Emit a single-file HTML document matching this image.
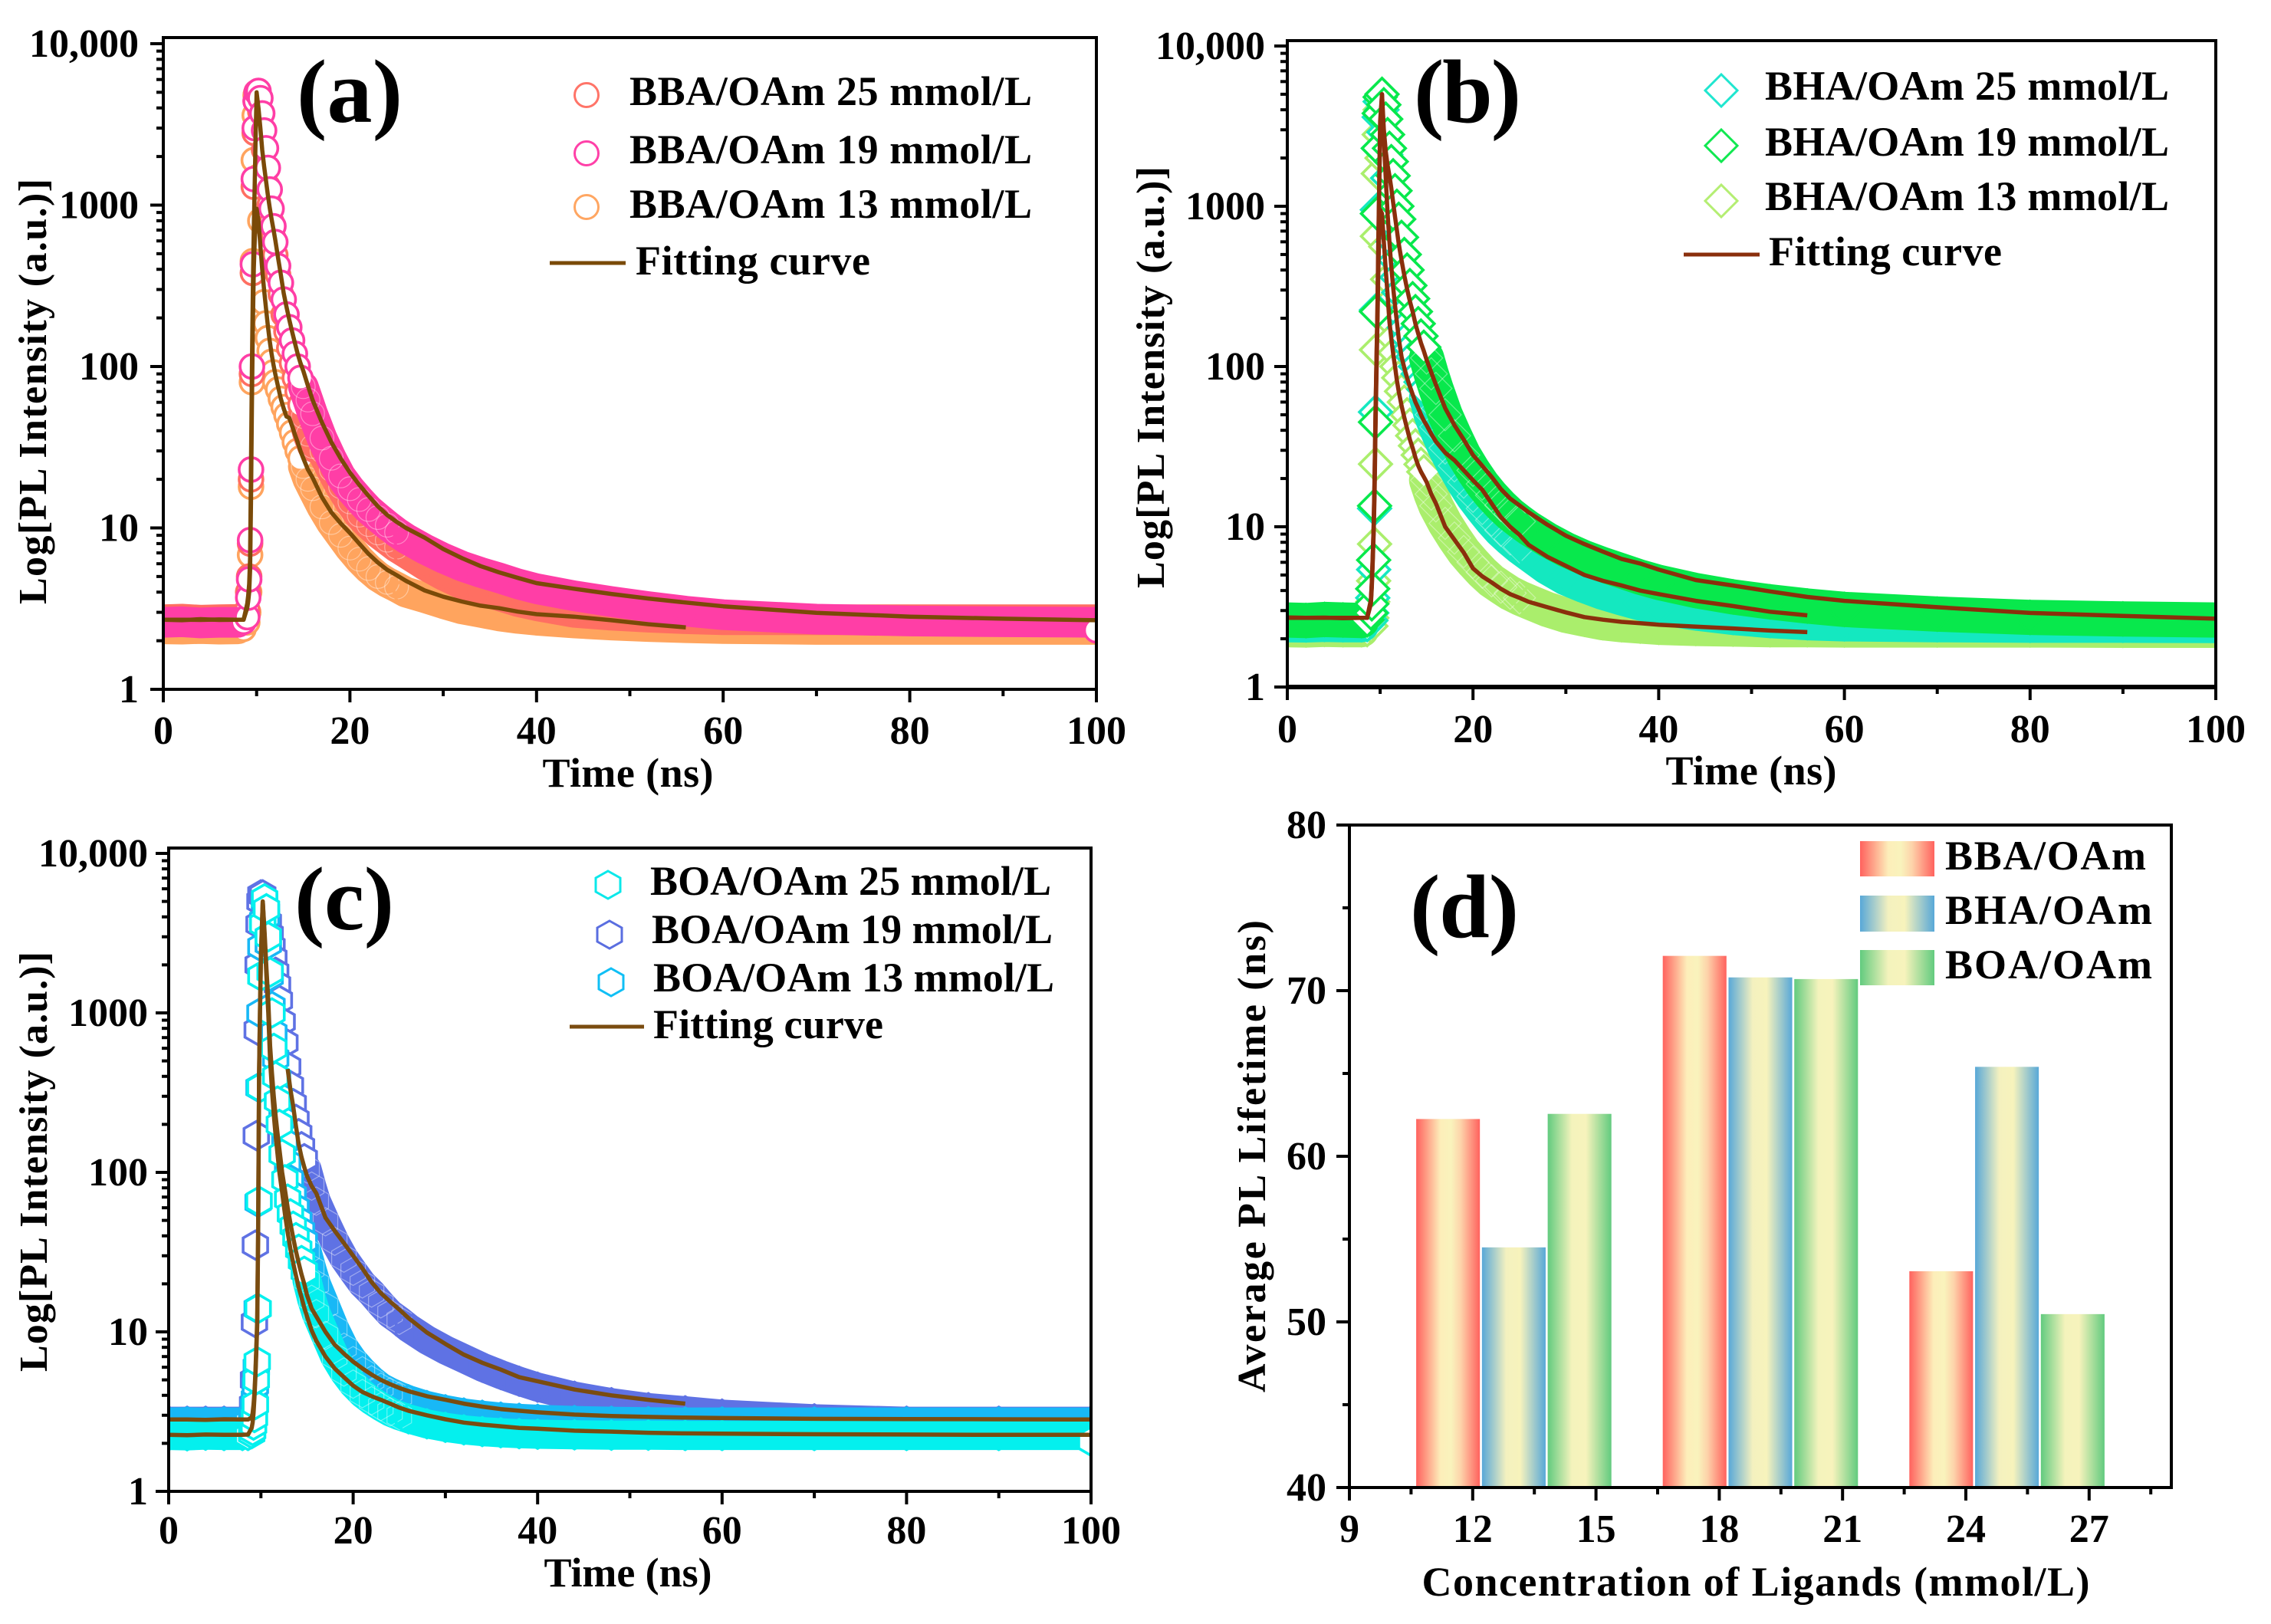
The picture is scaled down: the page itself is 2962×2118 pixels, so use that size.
<!DOCTYPE html>
<html lang="en">
<head>
<meta charset="utf-8">
<title>PL decay curves and average lifetimes</title>
<style>
html,body{margin:0;padding:0;background:#fff;}
svg{display:block;}
text{font-family:"Liberation Serif",serif;font-weight:bold;fill:#000;}
.t52{font-size:52px;}
.t54{font-size:54px;}
.big{font-size:118px;}
</style>
</head>
<body>
<svg id="figure" xmlns="http://www.w3.org/2000/svg" width="2962" height="2118" viewBox="0 0 2962 2118">
<defs>
<linearGradient id="grad-bba" x1="0" x2="1" y1="0" y2="0"><stop offset="0" stop-color="#ff625e"/><stop offset=".38" stop-color="#fdeeba"/><stop offset=".55" stop-color="#f9f3bc"/><stop offset=".7" stop-color="#fdd3aa"/><stop offset="1" stop-color="#ff625e"/></linearGradient>
<linearGradient id="grad-bha" x1="0" x2="1" y1="0" y2="0"><stop offset="0" stop-color="#58a8d8"/><stop offset=".38" stop-color="#f4f1bf"/><stop offset=".6" stop-color="#f7f3bc"/><stop offset="1" stop-color="#58a8d8"/></linearGradient>
<linearGradient id="grad-boa" x1="0" x2="1" y1="0" y2="0"><stop offset="0" stop-color="#62cb7f"/><stop offset=".38" stop-color="#f4f3bc"/><stop offset=".6" stop-color="#f7f3bc"/><stop offset="1" stop-color="#62cb7f"/></linearGradient>
<clipPath id="clip-a"><rect x="213" y="49" width="1217" height="851"/></clipPath>
<clipPath id="clip-b"><rect x="1679" y="53" width="1211" height="844"/></clipPath>
<clipPath id="clip-c"><rect x="220" y="1106" width="1203" height="840"/></clipPath>
</defs>
<rect width="2962" height="2118" fill="#fff"/>

<g id="panel-a"></g>
<g id="panel-b"></g>
<g id="panel-c"></g>
<g id="panel-d"></g>

<!-- Panel a text -->
<text class="big" x="387" y="159" textLength="138">(a)</text>
<text class="t52" transform="translate(60,788) rotate(-90)" x="0" y="0" textLength="555">Log[PL Intensity (a.u.)]</text>
<text class="t54" x="819" y="1026" text-anchor="middle" textLength="223">Time (ns)</text>
<circle cx="765" cy="124" r="15.5" fill="#fff" stroke="#ff7468" stroke-width="3"/>
<circle cx="765" cy="200" r="15.5" fill="#fff" stroke="#ff40a8" stroke-width="3"/>
<circle cx="765" cy="270" r="15.5" fill="#fff" stroke="#ffa662" stroke-width="3"/>
<text class="t54" x="821" y="137" textLength="525">BBA/OAm 25 mmol/L</text>
<text class="t54" x="821" y="213" textLength="525">BBA/OAm 19 mmol/L</text>
<text class="t54" x="821" y="284" textLength="525">BBA/OAm 13 mmol/L</text>
<line x1="717" x2="816" y1="343" y2="343" stroke="#7a4a08" stroke-width="5"/>
<text class="t54" x="829" y="358" textLength="306">Fitting curve</text>

<!-- Panel b text -->
<text class="big" x="1844" y="159" textLength="140">(b)</text>
<text class="t52" transform="translate(1518,767) rotate(-90)" x="0" y="0" textLength="550">Log[PL Intensity (a.u.)]</text>
<text class="t54" x="2284" y="1023" text-anchor="middle" textLength="223">Time (ns)</text>
<polygon points="2245,97 2266,118 2245,139 2224,118" fill="#fff" stroke="#1fe6cf" stroke-width="3"/>
<polygon points="2245,169 2266,190 2245,211 2224,190" fill="#fff" stroke="#10e850" stroke-width="3"/>
<polygon points="2245,241 2266,262 2245,283 2224,262" fill="#fff" stroke="#b4ee72" stroke-width="3"/>
<text class="t54" x="2302" y="130" textLength="527">BHA/OAm 25 mmol/L</text>
<text class="t54" x="2302" y="203" textLength="527">BHA/OAm 19 mmol/L</text>
<text class="t54" x="2302" y="274" textLength="527">BHA/OAm 13 mmol/L</text>
<line x1="2196" x2="2295" y1="332" y2="332" stroke="#8a2f0c" stroke-width="5"/>
<text class="t54" x="2307" y="346" textLength="304">Fitting curve</text>

<!-- Panel c text -->
<text class="big" x="384" y="1212" textLength="130">(c)</text>
<text class="t52" transform="translate(61,1789) rotate(-90)" x="0" y="0" textLength="548">Log[PL Intensity (a.u.)]</text>
<text class="t54" x="819" y="2069" text-anchor="middle" textLength="219">Time (ns)</text>
<polygon points="793,1136 809,1145 809,1163 793,1172 777,1163 777,1145" fill="#fff" stroke="#0ae8ea" stroke-width="3"/>
<polygon points="795,1201 811,1210 811,1228 795,1237 779,1228 779,1210" fill="#fff" stroke="#5a6ee0" stroke-width="3"/>
<polygon points="797,1263 813,1272 813,1290 797,1299 781,1290 781,1272" fill="#fff" stroke="#10bff5" stroke-width="3"/>
<text class="t54" x="848" y="1167" textLength="523">BOA/OAm 25 mmol/L</text>
<text class="t54" x="850" y="1230" textLength="523">BOA/OAm 19 mmol/L</text>
<text class="t54" x="852" y="1293" textLength="523">BOA/OAm 13 mmol/L</text>
<line x1="743" x2="840" y1="1339" y2="1339" stroke="#7a4c10" stroke-width="5"/>
<text class="t54" x="852" y="1354" textLength="300">Fitting curve</text>

<!-- Panel d text -->
<text class="big" x="1839" y="1222" textLength="142">(d)</text>
<text class="t52" transform="translate(1650,1816) rotate(-90)" x="0" y="0" textLength="616">Average PL Lifetime (ns)</text>
<text class="t54" x="2290" y="2081" text-anchor="middle" textLength="871">Concentration of Ligands (mmol/L)</text>
<rect x="2426" y="1097" width="97" height="46" fill="url(#grad-bba)"/>
<rect x="2426" y="1168" width="97" height="47" fill="url(#grad-bha)"/>
<rect x="2426" y="1239" width="97" height="46" fill="url(#grad-boa)"/>
<text class="t54" x="2537" y="1134" textLength="262">BBA/OAm</text>
<text class="t54" x="2537" y="1205" textLength="270">BHA/OAm</text>
<text class="t54" x="2537" y="1276" textLength="270">BOA/OAm</text>
</svg>

<script>
// ---- shared sampling times (ns) for panels a, b, c ----
const timeNs = [
  0,2,4,6,8,8.6,
  9,9.1,9.2,9.3,9.4,9.5,9.6,9.7,9.8,9.9,10,
  10.2,10.4,10.6,10.8,11,11.2,11.4,11.6,11.8,12,
  12.3,12.6,12.9,13.2,13.5,13.8,14.1,14.4,14.7,15,
  15.5,16,17,18,19,20,21,22,23,24,25,26,
  28,30,32,34,36,38,40,
  44,48,52,56,60,70,80,90,100];

// ---- axis ticks ----
const timeTicks = [0,20,40,60,80,100];
const timeMinorTicks = [10,30,50,70,90];
const logTicks = [1,10,100,1000,10000];
const logTickLabels = ['1','10','100','1000','10,000'];
const logMinorFactors = [2,3,4,5,6,7,8,9];

// ---- panel a: BBA/OAm ----
const bba13 = [
  2.37,2.36,2.38,2.36,2.37,2.37,
  2.6,3,4,6.8,18,80,450,1900,3600,4800,5000,
  1500,800,420,250,185,150,125,107,92,80,
  72,63,56,50,44,39,34,30,27,24,
  20,17.5,13.5,10.8,9,7.5,6.4,5.6,5,4.6,4.3,4,
  3.7,3.4,3.15,3,2.85,2.75,2.68,
  2.58,2.5,2.45,2.41,2.38,2.35,2.35,2.35,2.35];
const bba25 = [
  2.7,2.72,2.68,2.7,2.71,2.7,
  3.1,4,5,8,20,90,380,1300,2800,4400,5000,
  4800,3800,2900,2200,1700,1300,1000,780,620,490,
  370,280,210,165,130,105,85,70,58,49,
  38,32,30,23,18,14.5,12,10.5,9.3,8.4,7.6,7,
  5.9,5.1,4.5,4.1,3.8,3.5,3.3,
  3,2.88,2.8,2.74,2.7,2.7,2.7,2.7,2.7];
const bba19 = [
  2.6,2.62,2.58,2.6,2.6,2.62,
  2.8,3.7,4.8,8.4,23,100,430,1450,3000,4400,5000,
  5100,4600,3700,2900,2250,1700,1250,950,740,590,
  420,330,260,210,175,145,120,100,85,75,
  62,51,36,27,21,17.5,15,13,11.6,10.4,9.4,8.6,
  7.4,6.5,5.8,5.3,4.9,4.5,4.2,
  3.8,3.5,3.25,3.05,2.9,2.72,2.65,2.62,2.6];
const bba19EndReading = [2.32];
const bbaFitUpper = [
  2.7,2.68,2.72,2.69,2.7,2.7,
  3.4,3.8,4.5,6.5,25,100,300,700,1400,2800,5000,
  4000,3000,2200,1750,1420,1160,970,820,710,610,
  470,370,285,235,195,165,140,120,105,94,
  76,62,45,34,27,22,18.5,15.8,13.6,12,10.9,10,
  8.7,7.4,6.5,5.8,5.3,4.9,4.55,
  4.2,3.9,3.65,3.45,3.27,2.98,2.82,2.74,2.68];
const bbaFitLower = [
  2.7,2.7,2.69,2.71,2.7,2.7,
  3.2,3.5,4,5.5,15,60,180,400,620,800,950,
  800,560,400,300,230,180,145,120,103,90,
  75,63,55,49,48,43,38,34,30,27,
  23,20.5,15.5,12.5,10.7,9.3,8,6.9,6.1,5.5,5.1,4.7,
  4.1,3.75,3.5,3.3,3.18,3.03,2.92,
  2.82,2.68,2.53,2.42,2.35,2.3,2.28,2.3,2.3];

// ---- panel b: BHA/OAm ----
const bha13 = [
  2.28,2.27,2.29,2.28,2.28,2.28,
  2.4,2.7,3.4,4.6,7.8,24.6,127,650,1600,2800,4000,
  2000,1000,560,350,250,190,150,122,100,85,
  70,60,50,43,37,32,28,24.5,22,19.5,
  16,13.5,10.5,8.5,7,6,5.2,4.6,4.2,3.85,3.6,3.4,
  3.05,2.8,2.65,2.52,2.45,2.4,2.36,
  2.32,2.3,2.28,2.28,2.27,2.27,2.27,2.26,2.26];
const bha25 = [
  2.45,2.44,2.46,2.45,2.45,2.45,
  2.6,2.9,3.6,5.4,13,52,225,950,2300,3600,4500,
  4000,2900,2100,1500,1100,800,600,460,360,290,
  210,175,150,130,115,100,90,80,72,64,
  50,42,31,24,19,15.5,13,11,9.5,8.4,7.5,6.8,
  5.6,4.8,4.3,3.9,3.6,3.35,3.15,
  2.9,2.72,2.6,2.52,2.48,2.45,2.43,2.43,2.42];
const bha19 = [
  2.62,2.6,2.64,2.62,2.6,2.62,
  2.9,3.3,4.1,6.2,13.5,45,220,900,2300,3800,4800,
  5000,4300,3500,2800,2300,1900,1550,1250,1000,830,
  640,500,400,320,265,220,185,155,132,113,
  90,73,50,37,28,22.5,18.5,15.7,13.6,12,10.8,9.8,
  8.3,7.2,6.4,5.8,5.3,4.85,4.5,
  4,3.65,3.4,3.2,3.05,2.85,2.72,2.66,2.62];
const bhaFitUpper = [
  2.72,2.7,2.71,2.69,2.7,2.7,
  3.5,4.5,6.5,10,20,50,110,220,600,1400,3400,
  5000,3000,2200,1800,1550,1300,1050,860,710,585,
  460,370,305,255,220,185,160,140,125,110,
  92,77,55,43,35,28,24,20.5,17.2,15,13.6,12.3,
  10.3,8.8,7.8,7,6.3,5.9,5.4,
  4.65,4.3,3.95,3.65,3.45,3.15,2.9,2.78,2.67];
const bhaFitMiddle = [
  2.7,2.7,2.7,2.7,2.7,2.7,
  3.4,4.4,6.3,9.8,19,48,105,210,550,1300,3000,
  5000,2600,1500,900,600,420,310,240,190,150,
  115,98,85,75,67,60,55,50,46,43,
  38,34,29,26,22.5,19.5,17,14,11.5,10,8.9,7.7,
  6.5,5.7,5,4.6,4.3,4,3.8,
  3.45,3.2,2.95,2.8,2.7,2.65,2.6,2.55,2.5];
const bhaFitLower = [
  2.7,2.7,2.7,2.7,2.7,2.7,
  3.3,4.2,6,9,16,40,90,180,400,700,950,
  900,600,400,280,190,150,120,100,82,70,
  57,48,41,35,31,27,24,22,20.5,19,
  16,14,10,8.3,6.9,5.5,4.9,4.5,4.1,3.8,3.6,3.4,
  3.15,2.92,2.73,2.63,2.55,2.5,2.45,
  2.38,2.32,2.25,2.2,2.2,2.2,2.2,2.2,2.2];

// ---- panel c: BOA/OAm ----
const boa19 = [
  2.75,2.75,2.75,2.75,2.75,2.75,
  3,3.5,5,11.5,35,170,780,2000,3600,5000,5500,
  5500,4900,4300,3700,3100,2600,2200,1800,1500,1200,
  880,650,460,350,270,215,175,145,122,105,
  82,66,49,37,29,24,20,17.5,15,13,11.8,10.6,
  8.9,7.7,6.8,6,5.4,4.9,4.5,
  3.95,3.6,3.35,3.2,3.05,2.85,2.75,2.75,2.75];
const boa13 = [
  2.72,2.73,2.71,2.72,2.72,2.72,
  2.8,3,3.4,3.8,4.6,6,14,65,340,1000,2600,
  3800,5000,4000,2700,1700,1100,750,520,390,300,
  215,155,115,90,72,60,50,43,37,32,
  25,20,14.5,10.5,8,6.6,5.7,5,4.5,4.2,3.95,3.75,
  3.45,3.25,3.1,3,2.92,2.87,2.83,
  2.78,2.75,2.73,2.72,2.72,2.72,2.72,2.72,2.72];
const boa25 = [
  2.24,2.23,2.25,2.24,2.24,2.24,
  2.3,2.4,2.6,2.9,3.5,5,6.5,14,66,340,1700,
  3600,5200,4500,3000,1800,1000,600,400,280,200,
  130,90,68,55,46,39,33,28,24,21,
  16,13,9.5,7,5.6,4.7,4.1,3.7,3.4,3.15,2.98,2.85,
  2.65,2.52,2.43,2.37,2.33,2.3,2.28,
  2.26,2.25,2.25,2.24,2.24,2.24,2.24,2.24,2.24];
const boa25EndReading = [2.06];
const boaFitBlue = [
  2.75,2.75,2.75,2.75,2.75,2.75,
  3,3.5,5,11.5,35,170,780,2000,3600,5000,5500,
  5500,4900,4300,3700,3100,2600,2200,1800,1500,1200,
  700,560,445,330,260,195,150,125,108,95,
  82,74,52,43,36,30,25,20.5,17.5,15.5,13.8,12.2,
  9.9,8.4,7.2,6.4,5.8,5.2,4.9,
  4.35,4,3.75,3.55,3.4,3.1,2.95,2.85,2.8];
const boaFitUpper = [
  2.82,2.82,2.81,2.83,2.82,2.82,
  2.9,3.1,3.5,4.2,5.5,8,12,45,420,1050,2300,
  5000,3200,1900,1200,620,420,300,225,175,140,
  100,78,60,48,39,32,27,23,20,17,
  14,12.5,10,8.3,7.3,6.5,5.9,5.4,5,4.7,4.45,4.25,
  3.95,3.75,3.55,3.4,3.28,3.2,3.13,
  3.03,2.97,2.93,2.9,2.88,2.85,2.84,2.83,2.82];
const boaFitLower = [
  2.26,2.25,2.27,2.26,2.26,2.27,
  2.5,2.7,3.1,3.9,5.2,7.5,11,40,400,1000,2200,
  5000,3000,1700,1000,500,330,230,170,130,100,
  75,55,42,33,27,22.5,19,16.5,14.2,12.5,
  10.2,8.8,7,5.9,5.2,4.6,4.2,3.95,3.75,3.55,3.35,3.2,
  3,2.83,2.7,2.62,2.56,2.5,2.47,
  2.4,2.37,2.33,2.31,2.3,2.28,2.27,2.26,2.26];

// ---- panel d: bars ----
const ligandGroupCenters = [13,19,25];
const bbaLifetimes = [62.25,72.1,53.06];
const bhaLifetimes = [54.5,70.8,65.4];
const boaLifetimes = [62.56,70.7,50.47];
const concentrationTicks = [9,12,15,18,21,24,27];
const concentrationMinorTicks = [10.5,13.5,16.5,19.5,22.5,25.5,28.5];
const lifetimeTicks = [40,50,60,70,80];
const lifetimeMinorTicks = [45,55,65,75];

const NS = 'http://www.w3.org/2000/svg';
function mk(tag, parent, attrs) {
  const el = document.createElementNS(NS, tag);
  for (const k in attrs) el.setAttribute(k, attrs[k]);
  parent.appendChild(el);
  return el;
}
function tickLine(parent, x1, y1, x2, y2, w, name) {
  const el = mk('line', parent, {x1:x1, y1:y1, x2:x2, y2:y2, stroke:'#000', 'stroke-width':w});
  
  
}
function tickText(parent, x, y, anchor, str, name) {
  const el = mk('text', parent, {x:x, y:y, 'text-anchor':anchor, class:'t52'});
  el.textContent = str;
  
  
}
function markerShape(parent, shape, cx, cy, stroke, fill, width, opacity) {
  let el;
  if (shape === 'circle') {
    el = mk('circle', parent, {cx:cx, cy:cy, r:15.5});
  } else if (shape === 'diamond') {
    const r = 21;
    el = mk('polygon', parent, {points:[cx,cy-r,cx+r,cy,cx,cy+r,cx-r,cy].join(' ')});
  } else {
    const r = 18.5, w = 16;
    el = mk('polygon', parent, {points:[cx,cy-r,cx+w,cy-r/2,cx+w,cy+r/2,cx,cy+r,cx-w,cy+r/2,cx-w,cy-r/2].join(' ')});
  }
  el.setAttribute('fill', fill);
  el.setAttribute('stroke', stroke);
  el.setAttribute('stroke-width', width);
  el.setAttribute('stroke-opacity', opacity);
  return el;
}
function renderDecayPanel(cfg) {
  const root = document.getElementById(cfg.id);
  const xScale = t => cfg.left + t * (cfg.right - cfg.left) / 100;
  const yScale = v => cfg.yOne - Math.log10(v) * cfg.decade;
  const plot = mk('g', root, {'clip-path':'url(#' + cfg.clip + ')'});
  
  

  cfg.series.forEach(s => {
    const group = mk('g', plot, {});
    
    
    let left = '', right = '';
    timeNs.forEach((t, i) => {
      const p = xScale(t).toFixed(1) + ' ' + yScale(s.values[i]).toFixed(1);
      if (t <= 8) left += (left ? 'L' : 'M') + p;
      if (t >= cfg.bandFrom) right += (right ? 'L' : 'M') + p;
    });
    const band = mk('path', group, {d:left + right, fill:'none', stroke:s.color, 'stroke-width':cfg.bandWidth, 'stroke-linejoin':'round', 'stroke-linecap':'round'});
    
    
    timeNs.forEach((t, i) => {
      const open = t > 8 && t < cfg.bandFrom;
      const inDecay = t >= cfg.bandFrom && t < 26;
      const stroke = inDecay ? '#fff' : s.color;
      const width = inDecay ? 1.2 : 3.6;
      const opacity = inDecay ? 0.4 : 1;
      const m = markerShape(group, cfg.shape, xScale(t), yScale(s.values[i]), stroke, open ? '#fff' : 'none', width, opacity);
      
      
    });
    if (s.endReading) {
      const e = markerShape(group, cfg.shape, xScale(100), yScale(s.endReading[0]), s.color, '#fff', 3.6, 1);
      
      
    }
  });

  cfg.fits.forEach(f => {
    let d = '';
    timeNs.forEach((t, i) => {
      if (t >= f.from && t <= f.to) {
        d += (d ? 'L' : 'M') + xScale(t).toFixed(1) + ' ' + yScale(f.values[i]).toFixed(1);
      }
    });
    const line = mk('path', plot, {d:d, fill:'none', stroke:cfg.fitColor, 'stroke-width':5.5, 'stroke-linejoin':'round'});
    
    
  });

  const frame = mk('rect', root, {x:cfg.left, y:cfg.top, width:cfg.right - cfg.left, height:cfg.yOne - cfg.top, fill:'none', stroke:'#000', 'stroke-width':4});
  
  
  if (cfg.thickBottom) {
    tickLine(root, cfg.left, cfg.yOne, cfg.right, cfg.yOne, cfg.thickBottom, 'x-axis-line');
  }

  timeTicks.forEach(t => {
    tickLine(root, xScale(t), cfg.yOne, xScale(t), cfg.yOne + 17, 4, 'x-tick');
    tickText(root, xScale(t), cfg.xLabelY, 'middle', String(t), 'x-tick-label');
  });
  timeMinorTicks.forEach(t => {
    tickLine(root, xScale(t), cfg.yOne, xScale(t), cfg.yOne + 9, 4, 'x-minor-tick');
  });
  logTicks.forEach((v, i) => {
    tickLine(root, cfg.left - 17, yScale(v), cfg.left, yScale(v), 4, 'y-tick');
    tickText(root, cfg.yLabelX, yScale(v) + 17, 'end', logTickLabels[i], 'y-tick-label');
    if (i < logTicks.length - 1) {
      logMinorFactors.forEach(m => {
        tickLine(root, cfg.left - 9, yScale(v * m), cfg.left, yScale(v * m), 4, 'y-minor-tick');
      });
    }
  });
}

renderDecayPanel({
  id:'panel-a', clip:'clip-a', left:213, right:1430, top:49, yOne:899, decade:210.5,
  xLabelY:970, yLabelX:181, shape:'circle', bandWidth:40, bandFrom:15, fitColor:'#7a4a08',
  series:[
    {name:'bba-13', color:'#ffa45e', values:bba13},
    {name:'bba-25', color:'#ff6f62', values:bba25},
    {name:'bba-19', color:'#ff3ea6', values:bba19, endReading:bba19EndReading}
  ],
  fits:[
    {name:'lower', values:bbaFitLower, from:0, to:56},
    {name:'upper', values:bbaFitUpper, from:0, to:100}
  ]
});
renderDecayPanel({
  id:'panel-b', clip:'clip-b', left:1679, right:2890, top:53, yOne:896, decade:209,
  xLabelY:968, yLabelX:1650, shape:'diamond', bandWidth:46, bandFrom:15, fitColor:'#8a2f0c', thickBottom:6,
  series:[
    {name:'bha-13', color:'#aaee6c', values:bha13},
    {name:'bha-25', color:'#14e8c0', values:bha25},
    {name:'bha-19', color:'#08e84c', values:bha19}
  ],
  fits:[
    {name:'lower', values:bhaFitLower, from:0, to:56},
    {name:'middle', values:bhaFitMiddle, from:0, to:56},
    {name:'upper', values:bhaFitUpper, from:0, to:100}
  ]
});
renderDecayPanel({
  id:'panel-c', clip:'clip-c', left:220, right:1423, top:1106, yOne:1945, decade:208,
  xLabelY:2013, yLabelX:193, shape:'hexagon', bandWidth:38, bandFrom:15, fitColor:'#7a4c10',
  series:[
    {name:'boa-19', color:'#5f72e4', values:boa19},
    {name:'boa-13', color:'#18b8f6', values:boa13},
    {name:'boa-25', color:'#04f0ee', values:boa25, endReading:boa25EndReading}
  ],
  fits:[
    {name:'blue', values:boaFitBlue, from:12.9, to:56},
    {name:'upper', values:boaFitUpper, from:0, to:100},
    {name:'lower', values:boaFitLower, from:0, to:100}
  ]
});

(function renderBars() {
  const root = document.getElementById('panel-d');
  const left = 1760, right = 2832, top = 1076, bottom = 1940;
  const xScale = c => left + (c - 9) * (right - left) / 20;
  const yScale = v => bottom - (v - 40) * (bottom - top) / 40;
  const barWidth = 1.55, spacing = 1.6;
  const barSeries = [
    {name:'bba', fill:'url(#grad-bba)', values:bbaLifetimes, offset:-spacing},
    {name:'bha', fill:'url(#grad-bha)', values:bhaLifetimes, offset:0},
    {name:'boa', fill:'url(#grad-boa)', values:boaLifetimes, offset:spacing}
  ];
  barSeries.forEach(s => {
    s.values.forEach((v, i) => {
      const x0 = xScale(ligandGroupCenters[i] + s.offset - barWidth / 2);
      const x1 = xScale(ligandGroupCenters[i] + s.offset + barWidth / 2);
      const bar = mk('rect', root, {x:x0, y:yScale(v), width:x1 - x0, height:bottom - yScale(v), fill:s.fill});
      
      
    });
  });
  const frame = mk('rect', root, {x:left, y:top, width:right - left, height:bottom - top, fill:'none', stroke:'#000', 'stroke-width':4});
  
  
  concentrationTicks.forEach(c => {
    tickLine(root, xScale(c), bottom, xScale(c), bottom + 17, 4, 'x-tick');
    tickText(root, xScale(c), 2011, 'middle', String(c), 'x-tick-label');
  });
  concentrationMinorTicks.forEach(c => {
    tickLine(root, xScale(c), bottom, xScale(c), bottom + 9, 4, 'x-minor-tick');
  });
  lifetimeTicks.forEach(v => {
    tickLine(root, left - 17, yScale(v), left, yScale(v), 4, 'y-tick');
    tickText(root, 1730, yScale(v) + 17, 'end', String(v), 'y-tick-label');
  });
  lifetimeMinorTicks.forEach(v => {
    tickLine(root, left - 9, yScale(v), left, yScale(v), 4, 'y-minor-tick');
  });
})();
</script>
</body>
</html>
